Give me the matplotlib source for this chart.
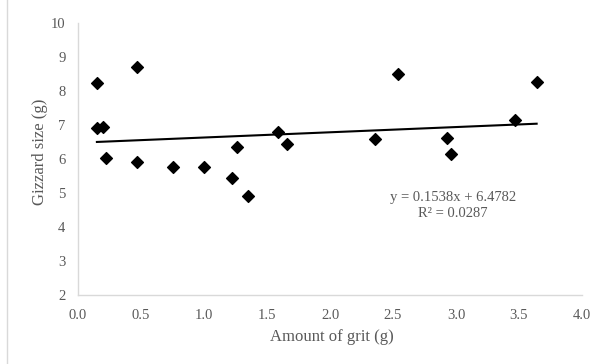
import numpy as np
import matplotlib
matplotlib.use("Agg")
import matplotlib.pyplot as plt
from matplotlib.lines import Line2D

# grit amount (g) vs gizzard size (g)
grit = [0.15, 0.15, 0.20, 0.22, 0.47, 0.47, 0.75, 1.00, 1.22, 1.26, 1.35,
        1.59, 1.66, 2.36, 2.54, 2.93, 2.96, 3.47, 3.64]
gizzard = [8.23, 6.92, 6.94, 6.04, 8.71, 5.92, 5.76, 5.77, 5.45, 6.35, 4.91,
           6.80, 6.44, 6.59, 8.51, 6.61, 6.16, 7.15, 8.27]

slope, intercept, r2 = 0.1538, 6.4782, 0.0287
x_ticks = [0.0, 0.5, 1.0, 1.5, 2.0, 2.5, 3.0, 3.5, 4.0]
y_ticks = [2, 3, 4, 5, 6, 7, 8, 9, 10]

plt.rcParams['font.family'] = ['Liberation Serif', 'DejaVu Serif']
GRAY = '#595959'
AXIS = '#d9d9d9'

fig = plt.figure(figsize=(6.03, 3.64), dpi=100)
ax = fig.add_axes([78 / 603, 69 / 364, 504 / 603, 272 / 364])

ax.scatter(grit, gizzard, marker='D', s=36, color='black', zorder=3)

xs = np.array([min(grit), max(grit)])
ax.plot(xs, slope * xs + intercept, color='black', lw=1.5, zorder=2)

ax.set_xlim(0, 4.0)
ax.set_ylim(2, 10)
ax.set_xticks(x_ticks)
ax.set_xticklabels([f'{v:.1f}' for v in x_ticks])
ax.set_yticks(y_ticks)
ax.tick_params(length=0, labelsize=10.5, colors=GRAY, pad=10)
ax.tick_params(axis='y', pad=9)

for side in ['top', 'right']:
    ax.spines[side].set_visible(False)
for side in ['left', 'bottom']:
    ax.spines[side].set_color(AXIS)
    ax.spines[side].set_linewidth(1)

# axis titles placed where the reference has them
fig.text(332 / 603, 1 - 337 / 364, 'Amount of grit (g)', fontsize=12,
         color=GRAY, ha='center', va='center')
fig.text(40 / 603, 1 - 152 / 364, 'Gizzard size (g)', fontsize=12,
         color=GRAY, ha='center', va='center', rotation=90)

ax.text(2.976, 4.62, f'y = {slope}x + {intercept}\nR² = {r2}',
        ha='center', va='center', fontsize=10.5, color=GRAY,
        multialignment='center', linespacing=1.3)

# chart-area border on the left edge
fig.add_artist(Line2D([6.5 / 603, 6.5 / 603], [0, 1], color=AXIS, lw=1))

fig.savefig('out.png', dpi=100)
